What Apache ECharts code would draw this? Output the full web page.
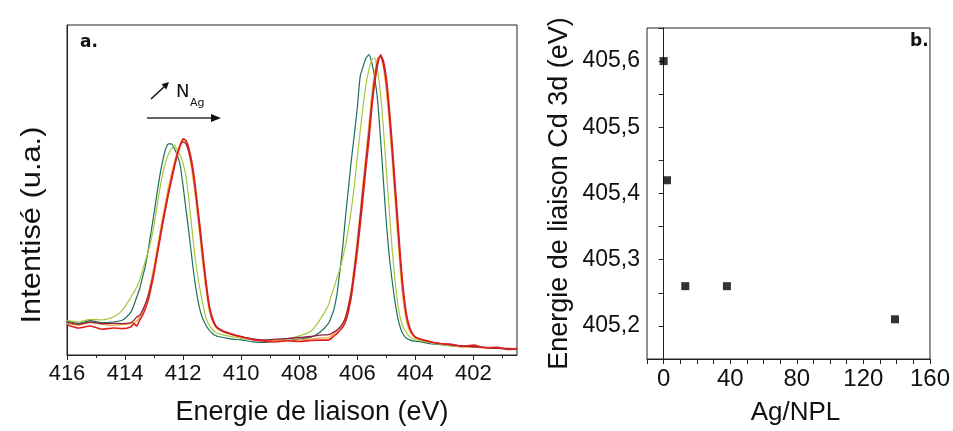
<!DOCTYPE html>
<html>
<head>
<meta charset="utf-8">
<script src="https://cdn.jsdelivr.net/npm/echarts@6/dist/echarts.min.js"></script>
<style>html,body{margin:0;padding:0;background:#fff}#c{width:953px;height:431px}</style>
</head>
<body>
<div id="c"></div>
<script>
// ---- Panel a: XPS Cd 3d spectra (binding energy, eV) ----
var energy = [416.0, 415.6, 415.2, 414.8, 414.4, 414.1,
  413.8, 413.7, 413.6, 413.5, 413.4, 413.3, 413.2, 413.1, 413.0, 412.9, 412.8, 412.7, 412.6, 412.5, 412.4, 412.3, 412.2, 412.1, 412.0, 411.9, 411.8, 411.7, 411.6, 411.5, 411.4, 411.3, 411.2, 411.1, 411.0, 410.9, 410.8,
  410.6, 410.3, 410.0, 409.6, 409.2, 408.8, 408.4, 408.0, 407.6, 407.3,
  407.0, 406.9, 406.8, 406.7, 406.6, 406.5, 406.4, 406.3, 406.2, 406.1, 406.0, 405.9, 405.8, 405.7, 405.6, 405.5, 405.4, 405.3, 405.2, 405.1, 405.0, 404.9, 404.8, 404.7, 404.6, 404.5, 404.4, 404.3, 404.2, 404.1, 404.0,
  403.8, 403.5, 403.2, 402.8, 402.4, 402.0, 401.6, 401.2, 400.8, 400.5];

var tealSpec = [10.2, 9.6, 10.4, 9.8, 10.0, 10.5,
  13, 15, 17.5, 20, 23.5, 27, 32, 37.5, 43, 49, 54.5, 59, 62.5, 64, 64, 62.5, 60.5, 57.5, 51, 44, 37, 29.5, 22.5, 17, 13, 10.5, 8.8, 7.5, 6.6, 6.0, 5.6,
  5.3, 4.8, 4.6, 4.0, 3.8, 4.2, 4.4, 4.8, 5.4, 6.8,
  9.5, 11.5, 14, 18.5, 25.5, 33, 42.5, 51, 59.5, 67, 75, 84.5, 87.5, 90, 91, 88.5, 84, 77, 65.5, 52.5, 40, 30, 22.5, 16, 11, 7.8, 6, 5, 4.6, 4.3, 4.2,
  4.0, 3.4, 3.2, 2.8, 2.5, 2.8, 2.2, 2.0, 1.8, 1.6];

var limeSpec = [10.5, 10.0, 10.8, 10.6, 11.5, 13.5,
  17.5, 19, 20.5, 22.5, 25.5, 28.5, 31.5, 35, 39.5, 45, 50.5, 55, 58.5, 61, 62.5, 63.5, 62, 60.5, 58, 54, 47, 38.5, 30.5, 24, 19, 14.5, 11, 9, 7.8, 7, 6.5,
  6.0, 5.5, 5.0, 4.6, 4.3, 4.6, 4.9, 5.8, 7.2, 10.5,
  15, 18, 20.5, 23.5, 26, 29.5, 33.5, 38.5, 44.5, 51.5, 60, 68, 75.5, 82, 86.5, 89.5, 90, 86, 79, 68.5, 56, 44, 32, 22.5, 15, 10.5, 8, 6.6, 5.5, 5, 4.7,
  4.3, 3.8, 3.3, 2.9, 2.6, 2.4, 2.3, 2.1, 1.9, 1.8];

var orangeSpec = [9.6, 9.0, 9.8, 9.3, 9.0, 9.2,
  9.5, 9.8, 10.2, 11.5, 13, 15.5, 18.5, 22.5, 27, 32, 37, 42, 46.5, 51, 55, 58.5, 61.5, 64, 65, 64, 61, 56, 49.5, 42, 34, 26, 19, 13.5, 10.5, 8.8, 7.8,
  7.0, 6.0, 5.4, 4.8, 4.4, 4.3, 4.4, 4.6, 4.8, 5.2,
  5.2, 5.8, 6.5, 7.3, 8.3, 9.5, 11.8, 15.5, 20.5, 27.5, 35, 43.5, 52.5, 61, 70, 79, 85.5, 90, 90.5, 87, 80, 70.5, 59, 47, 35, 23.5, 15, 10, 7.3, 6, 5.2,
  4.6, 3.9, 3.5, 3.0, 2.5, 2.4, 2.2, 2.2, 1.8, 1.7];

var maroonSpec = [9.9, 9.3, 10.0, 9.5, 9.6, 9.5,
  9.8, 10.5, 11.5, 12, 13.5, 15.5, 18, 21.5, 25.5, 30.5, 35.5, 40.5, 45, 49.5, 53.5, 57.5, 61, 63.5, 64.5, 64, 61.5, 57.5, 51.5, 44, 36, 28, 20.5, 14.5, 11, 9, 8,
  7.0, 6.2, 5.5, 4.9, 4.6, 4.8, 5.0, 5.3, 5.6, 6.0,
  6.2, 6.5, 7, 7.6, 8.4, 9.5, 11.5, 15, 19.5, 26, 33.5, 42, 50.5, 59, 67.5, 76.5, 84, 89, 90.5, 88, 82.5, 73, 62, 50, 38, 26.5, 17.5, 11.5, 8.2, 6.4, 5.4,
  4.7, 4.0, 3.6, 3.1, 2.8, 2.5, 2.3, 2.0, 2.0, 1.8];

var redSpec = [9.2, 8.2, 8.8, 7.8, 8.2, 8.0,
  8.5, 9.5, 8.8, 10.5, 12, 14, 16.7, 20.5, 25, 30, 35, 40, 44.5, 49, 53, 57, 60.5, 63.5, 65.5, 65, 62.5, 58.5, 52.5, 45, 37.5, 29, 21.5, 15, 11.5, 9.3, 8.2,
  7.2, 6.3, 5.6, 4.6, 4.2, 4.0, 4.3, 4.1, 4.4, 4.5,
  4.5, 5, 5.8, 6.5, 7.5, 8.5, 10.2, 13.5, 18, 24.5, 31.5, 39.5, 48, 57, 65, 75, 82.5, 88, 91, 89, 84, 75, 64, 52, 40, 28, 18.5, 12, 8.5, 6.5, 5.5,
  4.8, 4.1, 3.5, 3.3, 2.6, 3.0, 2.2, 2.3, 1.7, 2.0];

var energyTicks = [402, 404, 406, 408, 410, 412, 414, 416];
var energyMinorTicks = [401, 403, 405, 407, 409, 411, 413, 415];

// ---- Panel b: Cd 3d binding energy vs Ag/NPL ----
var agPerNpl = [0, 2, 13, 38, 139];
var cdBinding = [405.60, 405.42, 405.26, 405.26, 405.21];
var agTicks = [-10, 0, 10, 20, 30, 40, 50, 60, 70, 80, 90, 100, 110, 120, 130, 140, 150, 160];
var agLabels = [0, 40, 80, 120, 160];
var beTicks = [405.15, 405.2, 405.25, 405.3, 405.35, 405.4, 405.45, 405.5, 405.55, 405.6, 405.65];
var beLabels = [405.2, 405.3, 405.4, 405.5, 405.6];

var FONT = 'Liberation Sans, Arial, sans-serif';
function pairs(xs, ys) { return xs.map(function (x, i) { return [x, ys[i]]; }); }

var chart = echarts.init(document.getElementById('c'), null, { renderer: 'canvas' });
var axisLineStyle = { color: '#222', width: 1 };

function specSeries(name, vals, color, width) {
  return {
    type: 'line', name: name, xAxisIndex: 0, yAxisIndex: 0,
    data: pairs(energy, vals), showSymbol: false, smooth: 0.2,
    lineStyle: { color: color, width: width }, itemStyle: { color: color },
    animation: false
  };
}

chart.setOption({
  animation: false,
  textStyle: { fontFamily: FONT },
  grid: [
    { left: 67, top: 25, width: 450, height: 330, show: true, borderColor: '#222', borderWidth: 1, backgroundColor: 'transparent' },
    { left: 647, top: 28, width: 286, height: 332, show: true, borderColor: '#222', borderWidth: 1, backgroundColor: 'transparent' }
  ],
  xAxis: [
    {
      gridIndex: 0, type: 'value', min: 400.5, max: 416, inverse: true, position: 'bottom',
      axisLine: { lineStyle: axisLineStyle },
      axisTick: { customValues: energyTicks, length: 5, inside: false, lineStyle: axisLineStyle },
      axisLabel: { customValues: energyTicks, fontSize: 22, color: '#111', margin: 8, fontFamily: FONT },
      splitLine: { show: false },
      name: 'Energie de liaison (eV)', nameLocation: 'middle', nameGap: 44,
      nameTextStyle: { fontSize: 27, color: '#111', fontFamily: FONT, padding: [0, 0, 0, 40] }
    },
    {
      gridIndex: 0, type: 'value', min: 400.5, max: 416, inverse: true, position: 'bottom',
      axisLine: { show: false },
      axisTick: { customValues: energyMinorTicks, length: 3, inside: false, lineStyle: axisLineStyle },
      axisLabel: { show: false }, splitLine: { show: false }
    },
    {
      gridIndex: 1, type: 'value', min: -10, max: 160, position: 'bottom',
      axisLine: { lineStyle: axisLineStyle },
      axisTick: { customValues: agTicks, length: 5, inside: false, lineStyle: axisLineStyle },
      axisLabel: { customValues: agLabels, fontSize: 24, color: '#111', margin: 8, fontFamily: FONT },
      splitLine: { show: false },
      name: 'Ag/NPL', nameLocation: 'middle', nameGap: 41,
      nameTextStyle: { fontSize: 26, color: '#111', fontFamily: FONT, padding: [0, 0, 0, 14] }
    }
  ],
  yAxis: [
    {
      gridIndex: 0, type: 'value', min: 0, max: 100,
      axisLine: { show: true, lineStyle: axisLineStyle },
      axisTick: { show: false }, axisLabel: { show: false }, splitLine: { show: false }
    },
    {
      gridIndex: 1, type: 'value', min: 405.15, max: 405.65,
      axisLine: { show: true, lineStyle: axisLineStyle },
      axisTick: { customValues: beTicks, length: 5, inside: false, lineStyle: axisLineStyle },
      axisLabel: {
        customValues: beLabels, fontSize: 23, color: '#111', margin: 7, fontFamily: FONT,
        formatter: function (v) { return v.toFixed(1).replace('.', ','); }
      },
      splitLine: { show: false },
      name: 'Energie de liaison Cd 3d (eV)', nameLocation: 'middle', nameGap: 74,
      nameTextStyle: { fontSize: 27, color: '#111', fontFamily: FONT }
    }
  ],
  series: [
    specSeries('Ag/NPL 0', tealSpec, '#1b6f5c', 1.2),
    specSeries('Ag/NPL 2', limeSpec, '#a8c63c', 1.2),
    specSeries('Ag/NPL 13', orangeSpec, '#f2a534', 1.3),
    specSeries('Ag/NPL 38', maroonSpec, '#8e1f45', 1.3),
    specSeries('Ag/NPL 139', redSpec, '#e11f1f', 1.6),
    {
      type: 'scatter', name: 'Cd 3d', xAxisIndex: 2, yAxisIndex: 1,
      data: pairs(agPerNpl, cdBinding), symbol: 'rect', symbolSize: 8,
      itemStyle: { color: '#000' }, animation: false
    }
  ],
  graphic: [
    { type: 'text', x: 32, y: 225, rotation: Math.PI / 2, scaleX: 1.1,
      style: { text: 'Intentisé (u.a.)', fontSize: 28, fontFamily: FONT, fill: '#111', align: 'center', verticalAlign: 'middle' } },
    { type: 'text', x: 80, y: 43,
      style: { text: 'a.', fontSize: 17, fontWeight: 'bold', fontFamily: 'DejaVu Sans, sans-serif', fill: '#111', align: 'left', verticalAlign: 'middle' } },
    { type: 'text', x: 910, y: 42,
      style: { text: 'b.', fontSize: 17, fontWeight: 'bold', fontFamily: 'DejaVu Sans, sans-serif', fill: '#111', align: 'left', verticalAlign: 'middle' } },
    { type: 'line', shape: { x1: 151, y1: 99, x2: 164.5, y2: 86.5 }, style: { stroke: '#111', lineWidth: 1.5 } },
    { type: 'polygon', shape: { points: [[169, 82], [166.3, 89.4], [161.5, 84.2]] }, style: { fill: '#111' } },
    { type: 'text', x: 176, y: 92,
      style: { text: 'N', fontSize: 18, fontFamily: 'DejaVu Sans, sans-serif', fill: '#111', align: 'left', verticalAlign: 'middle' } },
    { type: 'text', x: 190, y: 103,
      style: { text: 'Ag', fontSize: 11, fontFamily: 'DejaVu Sans, sans-serif', fill: '#111', align: 'left', verticalAlign: 'middle' } },
    { type: 'line', shape: { x1: 147, y1: 118, x2: 213, y2: 118 }, style: { stroke: '#333', lineWidth: 1.5 } },
    { type: 'polygon', shape: { points: [[221, 118], [211, 114], [211, 122]] }, style: { fill: '#111' } }
  ]
});
</script>
</body>
</html>
